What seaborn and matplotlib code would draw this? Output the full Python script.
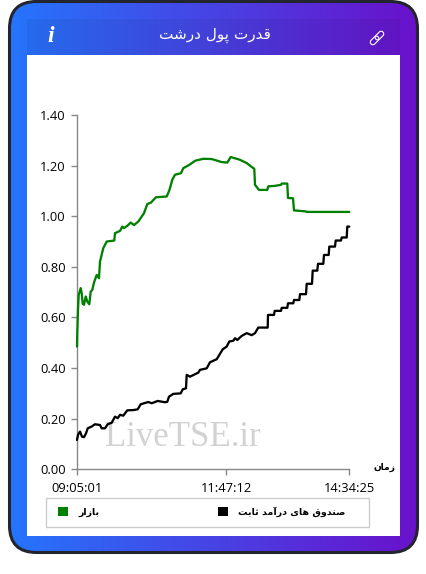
import numpy as np
import pandas as pd
import seaborn as sns
import matplotlib
matplotlib.use("Agg")
import matplotlib.pyplot as plt
from matplotlib.patches import FancyBboxPatch, Rectangle, Patch
from matplotlib.transforms import Affine2D

TITLE = "قدرت پول درشت"
SERIES_FUNDS = "صندوق های درآمد ثابت"
SERIES_MARKET = "بازار"
AXIS_LABEL = "زمان"
WATERMARK = "LiveTSE.ir"

TIME_LABELS = ["09:05:01", "11:47:12", "14:34:25"]
TIME_POSITIONS = [0, 149.6, 272.6]
VALUE_TICKS = [0.0, 0.2, 0.4, 0.6, 0.8, 1.0, 1.2, 1.4]

market_x = [0.3, 0.6, 1.3, 2, 4, 5, 6, 7.3, 9, 10.6, 12.6, 14, 15.6, 17.3, 20, 22.3, 23.3,
            26.6, 30, 37.6, 38.3, 43.3, 45.6, 47.3, 50.6, 54, 57.3, 61.6, 67.3, 70.6, 74.3,
            79.3, 90, 92.6, 95.6, 98.3, 104.3, 106.6, 112.6, 118.3, 126.6, 135, 145, 150.6,
            154, 163.3, 170, 177.6, 178.3, 182.3, 190.6, 191.6, 198.3, 204.3, 205, 210.6,
            211.3, 216.3, 217.3, 229.3, 230, 272.6]
market_y = [0.485, 0.544, 0.630, 0.689, 0.716, 0.696, 0.654, 0.650, 0.683, 0.663, 0.652, 0.702,
            0.709, 0.738, 0.768, 0.755, 0.821, 0.874, 0.900, 0.904, 0.933, 0.942, 0.959, 0.953,
            0.962, 0.975, 0.965, 0.979, 1.012, 1.048, 1.054, 1.075, 1.078, 1.102, 1.144, 1.164,
            1.170, 1.190, 1.203, 1.219, 1.227, 1.226, 1.214, 1.212, 1.234, 1.223, 1.210, 1.187,
            1.124, 1.104, 1.104, 1.118, 1.120, 1.124, 1.129, 1.129, 1.072, 1.071, 1.023, 1.019,
            1.017, 1.017]

funds_x = [0.3, 1.3, 3.3, 5.3, 7.3, 9.3, 11, 15, 18.3, 23.3, 25, 28.3, 31, 35, 38.3, 41, 43.3,
           46.6, 50.6, 56.6, 61, 64, 71.6, 75, 81, 88.3, 90.6, 92.3, 96.6, 104, 106, 109.3, 110,
           113.3, 121.6, 123.3, 130, 133.3, 140, 146, 150, 152.6, 156.6, 158.3, 160.6, 165, 170,
           175, 178.3, 181.6, 191, 191.3, 197.3, 198, 204.3, 205, 210.6, 211.3, 216.6, 217.3,
           222.6, 223.3, 229.3, 230, 235.3, 236, 240.6, 241.3, 246.6, 247.3, 252, 252.6, 258.3,
           259, 264.3, 265, 270, 270.6, 272.6]
funds_y = [0.116, 0.136, 0.149, 0.129, 0.127, 0.142, 0.162, 0.169, 0.178, 0.175, 0.162, 0.162,
           0.178, 0.184, 0.208, 0.202, 0.215, 0.212, 0.233, 0.234, 0.237, 0.257, 0.266, 0.261,
           0.270, 0.265, 0.267, 0.287, 0.298, 0.300, 0.316, 0.320, 0.373, 0.366, 0.382, 0.393,
           0.399, 0.423, 0.435, 0.474, 0.485, 0.505, 0.508, 0.518, 0.511, 0.527, 0.538, 0.530,
           0.538, 0.560, 0.560, 0.610, 0.610, 0.626, 0.626, 0.638, 0.638, 0.656, 0.656, 0.669,
           0.669, 0.692, 0.692, 0.733, 0.733, 0.785, 0.785, 0.812, 0.812, 0.847, 0.847, 0.880,
           0.880, 0.904, 0.904, 0.916, 0.916, 0.959, 0.959]

# Contextual forms for the Persian letters in use: isolated, final, initial, medial.
FORMS = {
    "ا": "\uFE8D\uFE8E", "آ": "\uFE81\uFE82", "د": "\uFEA9\uFEAA", "ر": "\uFEAD\uFEAE",
    "ز": "\uFEAF\uFEB0", "و": "\uFEED\uFEEE",
    "ب": "\uFE8F\uFE90\uFE91\uFE92", "پ": "\uFB56\uFB57\uFB58\uFB59",
    "ت": "\uFE95\uFE96\uFE97\uFE98", "ث": "\uFE99\uFE9A\uFE9B\uFE9C",
    "ش": "\uFEB5\uFEB6\uFEB7\uFEB8", "ص": "\uFEB9\uFEBA\uFEBB\uFEBC",
    "ق": "\uFED5\uFED6\uFED7\uFED8", "ل": "\uFEDD\uFEDE\uFEDF\uFEE0",
    "م": "\uFEE1\uFEE2\uFEE3\uFEE4", "ن": "\uFEE5\uFEE6\uFEE7\uFEE8",
    "ه": "\uFEE9\uFEEA\uFEEB\uFEEC", "ی": "\uFBFC\uFBFD\uFBFE\uFBFF",
}


def shape(text):
    """Join Persian letters and return them in display order."""
    out = []
    for i, ch in enumerate(text):
        forms = FORMS.get(ch)
        if forms is None:
            out.append(ch)
            continue
        prev = text[i - 1] if i else " "
        nxt = text[i + 1] if i + 1 < len(text) else " "
        joins_prev = prev in FORMS and len(FORMS[prev]) == 4
        joins_next = nxt in FORMS and len(forms) == 4
        if joins_prev and joins_next:
            out.append(forms[3])
        elif joins_next:
            out.append(forms[2])
        elif joins_prev:
            out.append(forms[1])
        else:
            out.append(forms[0])
    return "".join(reversed(out))


sns.set_theme(style="white")
plt.rcParams["font.family"] = ["Open Sans", "DejaVu Sans"]

W, H = 427, 574
fig = plt.figure(figsize=(W / 100, H / 100), dpi=100, facecolor="white")

# Card: rounded frame, horizontal gradient, header band and white panel (pixel coordinates).
bg = fig.add_axes([0, 0, 1, 1], zorder=0)
bg.set_xlim(0, W)
bg.set_ylim(H, 0)
bg.axis("off")
card = dict(boxstyle="round,pad=0,rounding_size=27")
gradient = np.linspace(0, 1, 256).reshape(1, -1)
cmap = matplotlib.colors.LinearSegmentedColormap.from_list("card", ["#2575fc", "#6a11cb"])
img = bg.imshow(gradient, extent=(9, 418, 553, 1), aspect="auto", cmap=cmap)
clip = FancyBboxPatch((9.5, 1.5), 408, 551, fc="none", ec="none", transform=bg.transData, **card)
bg.add_patch(clip)
img.set_clip_path(clip)
bg.add_patch(FancyBboxPatch((9.5, 1.5), 408, 551, fc="none", ec="#22252e", lw=2.2, **card))
bg.set_xlim(0, W)
bg.set_ylim(H, 0)
bg.add_patch(Rectangle((27, 19), 373, 36, fc="black", alpha=0.05, ec="none"))
bg.add_patch(Rectangle((27, 55), 373, 481, fc="white", ec="none"))

bg.text(214.5, 35.5, shape(TITLE), color="white", fontsize=11, ha="center", va="center",
        family="DejaVu Sans")
bg.text(51, 37, "i", color="white", fontsize=17, ha="center", va="center",
        family="Liberation Serif", style="italic", weight="bold")
for dx in (-3.4, 3.4):
    link = FancyBboxPatch((377 + dx - 5, 38 - 2.6), 10, 5.2,
                          boxstyle="round,pad=0,rounding_size=2.6", fc="none", ec="white", lw=0.8)
    link.set_transform(Affine2D().rotate_deg_around(377, 38, -45) + bg.transData)
    bg.add_patch(link)

bg.text(182.5, 438, WATERMARK, color="#d2d2d2", fontsize=25, ha="center", va="center",
        family="Liberation Serif", zorder=1)

# Legend frame
bg.add_patch(Rectangle((46.5, 497.5), 322.5, 29.5, fc="white", ec="#cccccc", lw=1))

market = pd.DataFrame({"sample": market_x, "value": market_y, "series": "market"})
funds = pd.DataFrame({"sample": funds_x, "value": funds_y, "series": "funds"})
data = pd.concat([market, funds], ignore_index=True)

left, right, top, bottom = 76.7, 349.3, 115, 469.3
ax = fig.add_axes([left / W, 1 - bottom / H, (right - left) / W, (bottom - top) / H], zorder=1)
ax.patch.set_alpha(0)
sns.lineplot(data=data, x="sample", y="value", hue="series",
             palette={"market": "#008000", "funds": "#000000"},
             estimator=None, sort=False, legend=False, linewidth=1.65, ax=ax)
for line in ax.get_lines():
    line.set_clip_on(False)
    line.set_zorder(3)

ax.set_xlim(0, 272.6)
ax.set_ylim(0, 1.4)
ax.set_xticks(TIME_POSITIONS, TIME_LABELS)
ax.set_yticks(VALUE_TICKS, [f"{v:.2f}" for v in VALUE_TICKS])
ax.tick_params(axis="both", length=4, width=1, color="#888888", labelsize=9.3, labelcolor="black",
               bottom=True, left=True)
ax.tick_params(axis="x", pad=5)
ax.tick_params(axis="y", pad=4)
sns.despine(ax=ax)
for side in ("left", "bottom"):
    ax.spines[side].set_color("#888888")
    ax.spines[side].set_linewidth(1)
ax.set_ylabel("")
ax.set_xlabel(shape(AXIS_LABEL), fontsize=6.6, weight="bold", family="DejaVu Sans", color="black",
              labelpad=0)
ax.xaxis.set_label_coords((385 - left) / (right - left), (bottom - 467.5) / (bottom - top))
ax.xaxis.label.set_va("center")

handles = [Patch(fc="#008000", ec="none", label=shape(SERIES_MARKET)),
           Patch(fc="#000000", ec="none", label=shape(SERIES_FUNDS))]
legend = bg.legend(handles=handles, ncol=2, loc="center left", bbox_to_anchor=(58, 512),
                   bbox_transform=bg.transData, frameon=False, borderpad=0, borderaxespad=0,
                   prop={"family": "DejaVu Sans", "weight": "bold", "size": 6.8},
                   handlelength=1.06, handleheight=1.06, handletextpad=1.06, columnspacing=12.6)
for text in legend.get_texts():
    text.set_color("black")

fig.savefig("out.png", dpi=100)
